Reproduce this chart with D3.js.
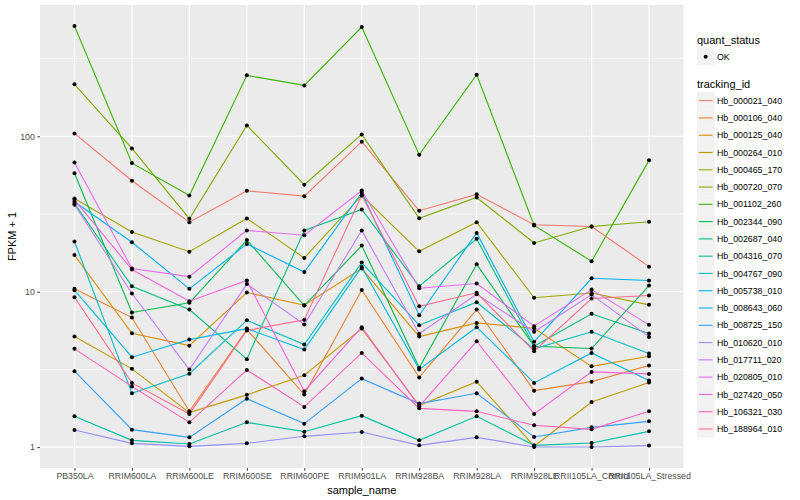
<!DOCTYPE html>
<html>
<meta charset="utf-8">
<script src="https://d3js.org/d3.v7.min.js"></script>
<style>
  body { margin: 0; background: #fff; }
  text { font-family: "Liberation Sans", Arial, sans-serif; }
</style>
<body>
<div id="chart"></div>
<script>

// samples on the x axis
var samples = ["PB350LA", "RRIM600LA", "RRIM600LE", "RRIM600SE", "RRIM600PE", "RRIM901LA",
               "RRIM928BA", "RRIM928LA", "RRIM928LE", "RRII105LA_Control", "RRII105LA_Stressed"];

var trackingIds = ["Hb_000021_040", "Hb_000106_040", "Hb_000125_040", "Hb_000264_010", "Hb_000465_170",
                   "Hb_000720_070", "Hb_001102_260", "Hb_002344_090", "Hb_002687_040", "Hb_004316_070",
                   "Hb_004767_090", "Hb_005738_010", "Hb_008643_060", "Hb_008725_150", "Hb_010620_010",
                   "Hb_017711_020", "Hb_020805_010", "Hb_027420_050", "Hb_106321_030", "Hb_188964_010"];

// FPKM per gene (same order as trackingIds), one value per sample
var fpkm = [
  [103.4, 50.8, 27.0, 43.6, 40.2, 91.3, 32.2, 41.3, 26.0, 25.3, 13.5],
  [9.44, 5.82, 0.70, 4.71, 1.18, 9.25, 1.81, 6.68, 1.31, 1.64, 2.35],
  [16.2, 4.40, 3.50, 8.88, 7.19, 13.1, 4.15, 5.30, 4.82, 2.31, 2.84],
  [4.15, 2.19, 0.668, 1.17, 1.90, 4.79, 0.85, 1.64, 0.015, 0.95, 1.61],
  [38.8, 23.2, 17.1, 28.6, 15.5, 40.6, 17.2, 27.0, 8.14, 8.81, 7.23],
  [214.9, 82.6, 28.5, 116.5, 47.8, 101.8, 28.7, 39.4, 19.6, 25.3, 27.2],
  [511, 66.2, 40.6, 245.7, 211.6, 503.8, 75.1, 248.3, 25.7, 14.7, 69.0],
  [56.9, 6.35, 7.48, 20.5, 7.15, 18.8, 2.24, 14.0, 3.46, 3.31, 9.96],
  [36.0, 9.85, 6.68, 2.68, 23.8, 32.8, 9.85, 20.9, 3.46, 6.21, 4.38],
  [0.58, 0.106, 0.048, 0.444, 0.258, 0.595, 0.106, 0.58, 0.027, 0.064, 0.264],
  [20.05, 1.22, 1.97, 5.55, 3.57, 14.4, 5.09, 7.56, 3.29, 4.52, 3.00],
  [9.23, 2.79, 3.92, 4.79, 3.25, 13.4, 2.16, 4.91, 1.59, 3.04, 1.68],
  [36.9, 19.8, 9.44, 19.3, 12.4, 42.3, 6.06, 22.9, 3.76, 11.2, 10.8],
  [2.08, 0.296, 0.156, 1.05, 0.417, 1.76, 0.906, 1.22, 0.163, 0.341, 0.466],
  [0.291, 0.058, 0.012, 0.058, 0.174, 0.253, 0.027, 0.156, 0.003, 0.003, 0.023],
  [35.3, 8.74, 2.16, 10.2, 5.15, 23.8, 4.36, 8.64, 4.52, 8.59, 4.12],
  [66.9, 13.1, 11.5, 23.8, 22.1, 43.8, 9.53, 10.3, 5.00, 9.33, 5.12],
  [38.0, 12.9, 7.69, 10.8, 1.29, 4.91, 0.83, 3.80, 0.636, 2.05, 1.96],
  [3.29, 1.46, 0.444, 2.14, 0.815, 3.04, 0.777, 0.70, 0.382, 0.302, 0.70],
  [8.22, 1.59, 0.636, 4.63, 5.59, 40.8, 7.06, 8.84, 3.14, 8.04, 8.45]
];

var quantStatus = ["OK"];
var yTicks = [1, 10, 100];

// ggplot default hue palette for 20 groups
var palette = ["#F8766D", "#EA8331", "#D89000", "#C09B00", "#A3A500", "#7CAE00", "#39B600",
               "#00BB4E", "#00BF7D", "#00C1A3", "#00BFC4", "#00BAE0", "#00B0F6", "#35A2FF",
               "#9590FF", "#C77CFF", "#E76BF3", "#FA62DB", "#FF62BC", "#FF6C90"];

var W = 800, H = 500;
var panel = {left: 40, right: 683.5, top: 5, bottom: 468};

var svg = d3.select("#chart").append("svg")
    .attr("width", W).attr("height", H);

var series = trackingIds.map(function(id, i) {
  return {id: id, color: palette[i], values: fpkm[i].map(function(v, j) {
    return {sample: samples[j], y: v + 1};
  })};
});

var x = d3.scalePoint()
    .domain(samples)
    .range([panel.left, panel.right])
    .padding(0.6);

// log y, 5% expansion of the data range like ggplot
var all = [];
series.forEach(function(s) { s.values.forEach(function(d) { all.push(Math.log10(d.y)); }); });
var lo = d3.min(all), hi = d3.max(all), ex = (hi - lo) * 0.05;
var y = d3.scaleLog()
    .domain([Math.pow(10, lo - ex), Math.pow(10, hi + ex)])
    .range([panel.bottom, panel.top]);

// panel background
svg.append("rect")
    .attr("x", panel.left).attr("y", panel.top)
    .attr("width", panel.right - panel.left).attr("height", panel.bottom - panel.top)
    .attr("fill", "#EBEBEB");

// minor grid (half decades)
var minor = [Math.sqrt(10), Math.sqrt(1000), Math.sqrt(100000)];
svg.selectAll("line.minor").data(minor).enter().append("line")
    .attr("x1", panel.left).attr("x2", panel.right)
    .attr("y1", function(d) { return y(d); }).attr("y2", function(d) { return y(d); })
    .attr("stroke", "#fff").attr("stroke-width", 0.55);

svg.selectAll("line.major").data(yTicks).enter().append("line")
    .attr("x1", panel.left).attr("x2", panel.right)
    .attr("y1", function(d) { return y(d); }).attr("y2", function(d) { return y(d); })
    .attr("stroke", "#fff").attr("stroke-width", 1.1);

svg.selectAll("line.vgrid").data(samples).enter().append("line")
    .attr("x1", function(d) { return x(d); }).attr("x2", function(d) { return x(d); })
    .attr("y1", panel.top).attr("y2", panel.bottom)
    .attr("stroke", "#fff").attr("stroke-width", 1.1);

// lines
var line = d3.line()
    .x(function(d) { return x(d.sample); })
    .y(function(d) { return y(d.y); });

svg.append("g").selectAll("path").data(series).enter().append("path")
    .attr("d", function(s) { return line(s.values); })
    .attr("fill", "none")
    .attr("stroke", function(s) { return s.color; })
    .attr("stroke-width", 1.1);

// points
svg.append("g").selectAll("g").data(series).enter().append("g")
  .selectAll("circle").data(function(s) { return s.values; }).enter().append("circle")
    .attr("cx", function(d) { return x(d.sample); })
    .attr("cy", function(d) { return y(d.y); })
    .attr("r", 2)
    .attr("fill", "#000");

// axes
var yAxis = svg.append("g")
    .attr("transform", "translate(" + panel.left + ",0)")
    .call(d3.axisLeft(y).tickValues(yTicks).tickFormat(d3.format("d")).tickSize(2.7).tickPadding(2.5));
var xAxis = svg.append("g")
    .attr("transform", "translate(0," + panel.bottom + ")")
    .call(d3.axisBottom(x).tickSize(2.7).tickPadding(2.5));
[xAxis, yAxis].forEach(function(a) {
  a.select(".domain").remove();
  a.selectAll(".tick line").attr("stroke", "#333333").attr("stroke-width", 1);
  a.selectAll(".tick text").attr("fill", "#4D4D4D").style("font-size", "8.8px")
    .style("font-family", "'Liberation Sans', Arial, sans-serif");
});

// axis titles
svg.append("text")
    .attr("x", (panel.left + panel.right) / 2).attr("y", 494)
    .attr("text-anchor", "middle").style("font-size", "11px").attr("fill", "#000")
    .text("sample_name");

svg.append("text")
    .attr("transform", "translate(16," + ((panel.top + panel.bottom) / 2) + ") rotate(-90)")
    .attr("text-anchor", "middle").style("font-size", "11px").attr("fill", "#000")
    .text("FPKM + 1");

// legends
var lg = svg.append("g").attr("transform", "translate(697,0)");
lg.append("text").attr("x", 0).attr("y", 44).style("font-size", "11px").text("quant_status");
lg.selectAll("rect.qs").data(quantStatus).enter().append("rect")
    .attr("x", 0).attr("y", 48).attr("width", 17.3).attr("height", 17.3).attr("fill", "#F2F2F2");
lg.selectAll("circle.qs").data(quantStatus).enter().append("circle")
    .attr("cx", 8.65).attr("cy", 56.65).attr("r", 2).attr("fill", "#000");
lg.selectAll("text.qs").data(quantStatus).enter().append("text")
    .attr("x", 20).attr("y", 59.8).style("font-size", "8.8px").text(function(d) { return d; });

lg.append("text").attr("x", 0).attr("y", 87.5).style("font-size", "11px").text("tracking_id");
var key = lg.selectAll("g.key").data(series).enter().append("g")
    .attr("transform", function(d, i) { return "translate(0," + (92 + i * 17.28) + ")"; });
key.append("rect").attr("width", 17.3).attr("height", 17.3).attr("fill", "#F2F2F2");
key.append("line").attr("x1", 1.7).attr("x2", 15.6).attr("y1", 8.65).attr("y2", 8.65)
    .attr("stroke", function(d) { return d.color; }).attr("stroke-width", 1.1);
key.append("text").attr("x", 20).attr("y", 11.8).style("font-size", "8.8px")
    .text(function(d) { return d.id; });

</script>
</body>
</html>
